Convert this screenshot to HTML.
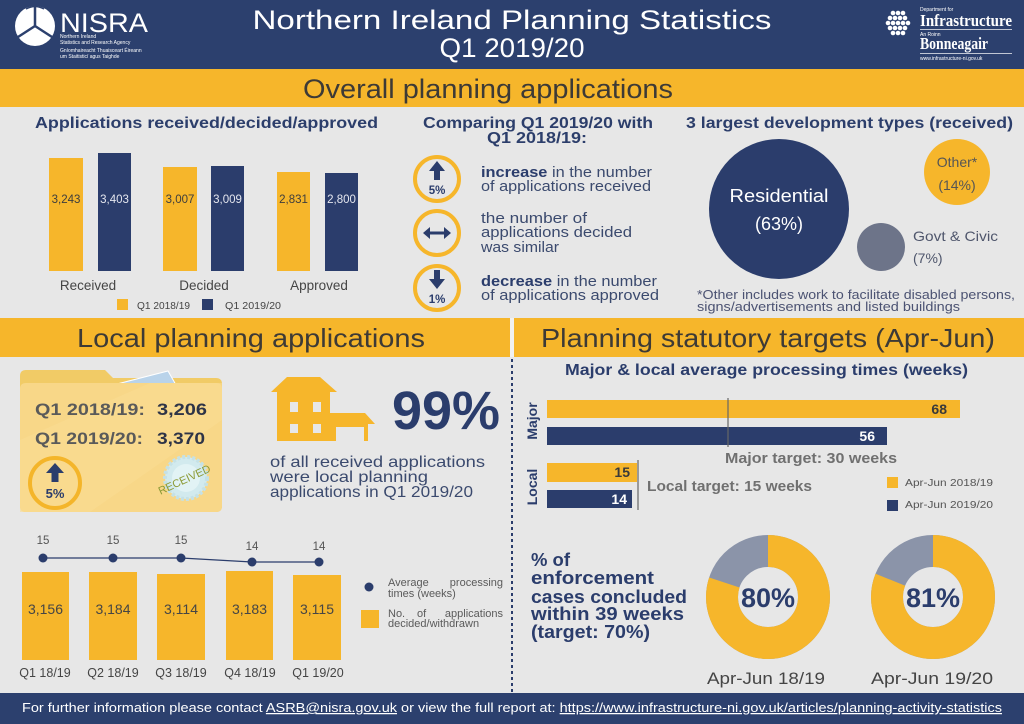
<!DOCTYPE html>
<html><head><meta charset="utf-8"><style>
html,body{margin:0;padding:0;width:1024px;height:724px;overflow:hidden;background:#e7e7e7}
svg{display:block}
text{font-family:"Liberation Sans","DejaVu Sans",sans-serif}
</style></head><body>
<svg width="1024" height="724" viewBox="0 0 1024 724" xmlns="http://www.w3.org/2000/svg">
<rect width="1024" height="724" fill="#e7e7e7"/>

<!-- HEADER -->
<rect x="0" y="0" width="1024" height="69" fill="#2c406e"/>
<!-- NISRA logo -->
<circle cx="35" cy="26" r="20" fill="#ffffff"/>
<path d="M35 26 L35 6 M35 26 L18 37 M35 26 L52 37" stroke="#2c406e" stroke-width="2.5" fill="none"/>
<path d="M26 9 Q35 4 44 9" stroke="#2c406e" stroke-width="1.5" fill="none"/>
<text x="60" y="32" font-size="27" fill="#ffffff" textLength="88" lengthAdjust="spacingAndGlyphs">NISRA</text>
<text x="60" y="38" font-size="5" fill="#ffffff">Northern Ireland</text>
<text x="60" y="44" font-size="5" fill="#ffffff">Statistics and Research Agency</text>
<text x="60" y="52" font-size="5" fill="#ffffff">Gníomhaireacht Thuaisceart Éireann</text>
<text x="60" y="58" font-size="5" fill="#ffffff">um Staitisticí agus Taighde</text>

<text x="512" y="29" font-size="27" fill="#ffffff" text-anchor="middle" textLength="519" lengthAdjust="spacingAndGlyphs">Northern Ireland Planning Statistics</text>
<text x="512" y="57" font-size="27" fill="#ffffff" text-anchor="middle" textLength="145" lengthAdjust="spacingAndGlyphs">Q1 2019/20</text>

<!-- Infrastructure logo -->
<g fill="#ffffff">
<circle cx="893" cy="13" r="2.3"/><circle cx="898" cy="13" r="2.3"/><circle cx="903" cy="13" r="2.3"/>
<circle cx="890" cy="18" r="2.3"/><circle cx="895" cy="18" r="2.3"/><circle cx="900" cy="18" r="2.3"/><circle cx="905" cy="18" r="2.3"/>
<circle cx="888" cy="23" r="2.3"/><circle cx="893" cy="23" r="2.3"/><circle cx="898" cy="23" r="2.3"/><circle cx="903" cy="23" r="2.3"/><circle cx="908" cy="23" r="2.3"/>
<circle cx="890" cy="28" r="2.3"/><circle cx="895" cy="28" r="2.3"/><circle cx="900" cy="28" r="2.3"/><circle cx="905" cy="28" r="2.3"/>
<circle cx="893" cy="33" r="2.3"/><circle cx="898" cy="33" r="2.3"/><circle cx="903" cy="33" r="2.3"/>
</g>
<text x="920" y="11" font-size="5" fill="#ffffff">Department for</text>
<text x="920" y="26" font-size="17" fill="#ffffff" font-family="Liberation Serif,serif" font-weight="bold" textLength="92" lengthAdjust="spacingAndGlyphs" style="font-family:'Liberation Serif',serif">Infrastructure</text>
<rect x="920" y="29" width="92" height="0.7" fill="#ffffff"/>
<text x="920" y="36" font-size="5" fill="#ffffff">An Roinn</text>
<text x="920" y="49" font-size="17" fill="#ffffff" font-weight="bold" textLength="68" lengthAdjust="spacingAndGlyphs" style="font-family:'Liberation Serif',serif">Bonneagair</text>
<rect x="920" y="53" width="92" height="0.7" fill="#ffffff"/>
<text x="920" y="60" font-size="5" fill="#ffffff">www.infrastructure-ni.gov.uk</text>

<!-- BAND 1 -->
<rect x="0" y="69" width="1024" height="38" fill="#f6b62b"/>
<text x="488" y="98" font-size="27" fill="#3d3a36" text-anchor="middle" textLength="370" lengthAdjust="spacingAndGlyphs">Overall planning applications</text>

<!-- Section titles -->
<text x="35" y="128" font-size="16" font-weight="bold" fill="#2c3e6b" textLength="343" lengthAdjust="spacingAndGlyphs">Applications received/decided/approved</text>
<text x="538" y="128" font-size="16" font-weight="bold" fill="#2c3e6b" text-anchor="middle" textLength="230" lengthAdjust="spacingAndGlyphs">Comparing Q1 2019/20 with</text>
<text x="537" y="143" font-size="16" font-weight="bold" fill="#2c3e6b" text-anchor="middle" textLength="100" lengthAdjust="spacingAndGlyphs">Q1 2018/19:</text>
<text x="686" y="128" font-size="16" font-weight="bold" fill="#2c3e6b" textLength="327" lengthAdjust="spacingAndGlyphs">3 largest development types (received)</text>

<!-- Bar chart 1 -->
<rect x="49" y="158" width="34" height="113" fill="#f6b62b"/>
<rect x="98" y="153" width="33" height="118" fill="#2b3d6c"/>
<rect x="163" y="167" width="34" height="104" fill="#f6b62b"/>
<rect x="211" y="166" width="33" height="105" fill="#2b3d6c"/>
<rect x="277" y="172" width="33" height="99" fill="#f6b62b"/>
<rect x="325" y="173" width="33" height="98" fill="#2b3d6c"/>
<g font-size="11.5" text-anchor="middle">
<text x="66" y="203" fill="#3d3d3d">3,243</text>
<text x="114.5" y="203" fill="#e4e6ee">3,403</text>
<text x="180" y="203" fill="#3d3d3d">3,007</text>
<text x="227.5" y="203" fill="#e4e6ee">3,009</text>
<text x="293.5" y="203" fill="#3d3d3d">2,831</text>
<text x="341.5" y="203" fill="#e4e6ee">2,800</text>
</g>
<g font-size="13.5" text-anchor="middle" fill="#454545">
<text x="88" y="290">Received</text>
<text x="204" y="290">Decided</text>
<text x="319" y="290">Approved</text>
</g>
<rect x="117" y="299" width="11" height="11" fill="#f6b62b"/>
<text x="137" y="309" font-size="10.5" fill="#454545" textLength="53" lengthAdjust="spacingAndGlyphs">Q1 2018/19</text>
<rect x="202" y="299" width="11" height="11" fill="#2b3d6c"/>
<text x="225" y="309" font-size="10.5" fill="#454545" textLength="56" lengthAdjust="spacingAndGlyphs">Q1 2019/20</text>

<!-- Comparing section -->
<g fill="none" stroke="#f6b62b" stroke-width="4">
<circle cx="437" cy="179" r="22"/>
<circle cx="437" cy="233" r="22"/>
<circle cx="437" cy="288" r="22"/>
</g>
<g fill="#2b3d6c">
<polygon points="437,161 445,171 429,171"/><rect x="434" y="170" width="6" height="10"/>
<polygon points="423,233 430,227 430,239"/><polygon points="451,233 444,227 444,239"/><rect x="429" y="231.5" width="16" height="3"/>
<polygon points="437,289 445,279 429,279"/><rect x="434" y="270" width="6" height="10"/>
</g>
<text x="437" y="194" font-size="11.5" font-weight="bold" fill="#2b3d6c" text-anchor="middle">5%</text>
<text x="437" y="303" font-size="11.5" font-weight="bold" fill="#2b3d6c" text-anchor="middle">1%</text>
<g font-size="15" fill="#3b4a6e">
<text x="481" y="177" textLength="171" lengthAdjust="spacingAndGlyphs"><tspan font-weight="bold" fill="#2b3d6c">increase</tspan> in the number</text>
<text x="481" y="191" textLength="170" lengthAdjust="spacingAndGlyphs">of applications received</text>
<text x="481" y="223" textLength="106" lengthAdjust="spacingAndGlyphs">the number of</text>
<text x="481" y="237" textLength="151" lengthAdjust="spacingAndGlyphs">applications decided</text>
<text x="481" y="252" textLength="78" lengthAdjust="spacingAndGlyphs">was similar</text>
<text x="481" y="286" textLength="176" lengthAdjust="spacingAndGlyphs"><tspan font-weight="bold" fill="#2b3d6c">decrease</tspan> in the number</text>
<text x="481" y="300" textLength="178" lengthAdjust="spacingAndGlyphs">of applications approved</text>
</g>

<!-- Bubbles -->
<circle cx="779" cy="209" r="70" fill="#2b3d6c"/>
<circle cx="957" cy="172" r="33" fill="#f6b62b"/>
<circle cx="881" cy="247" r="24" fill="#6d7489"/>
<text x="779" y="202" font-size="18" fill="#ffffff" text-anchor="middle" textLength="99" lengthAdjust="spacingAndGlyphs">Residential</text>
<text x="779" y="230" font-size="18" fill="#ffffff" text-anchor="middle">(63%)</text>
<text x="957" y="167" font-size="14" fill="#555555" text-anchor="middle">Other*</text>
<text x="957" y="190" font-size="14" fill="#555555" text-anchor="middle">(14%)</text>
<text x="913" y="241" font-size="14" fill="#4f566c" textLength="85" lengthAdjust="spacingAndGlyphs">Govt &amp; Civic</text>
<text x="913" y="263" font-size="14" fill="#4f566c">(7%)</text>
<text x="697" y="299" font-size="12.5" fill="#4b5272" textLength="318" lengthAdjust="spacingAndGlyphs">*Other includes work to facilitate disabled persons,</text>
<text x="697" y="311" font-size="12.5" fill="#4b5272" textLength="263" lengthAdjust="spacingAndGlyphs">signs/advertisements and listed buildings</text>

<!-- BAND 2 -->
<rect x="0" y="318" width="1024" height="39" fill="#f1f1f1"/>
<rect x="0" y="318" width="510" height="39" fill="#f6b62b"/>
<rect x="514" y="318" width="510" height="39" fill="#f6b62b"/>
<text x="251" y="347" font-size="26" fill="#3d3a36" text-anchor="middle" textLength="348" lengthAdjust="spacingAndGlyphs">Local planning applications</text>
<text x="768" y="347" font-size="26" fill="#3d3a36" text-anchor="middle" textLength="454" lengthAdjust="spacingAndGlyphs">Planning statutory targets (Apr-Jun)</text>

<line x1="512" y1="359" x2="512" y2="692" stroke="#2b3d6c" stroke-width="2" stroke-dasharray="3 3"/>

<!-- Folder -->
<path d="M26 370 L105 370 L113 378 L216 378 Q222 378 222 384 L222 506 Q222 512 216 512 L26 512 Q20 512 20 506 L20 376 Q20 370 26 370 Z" fill="#f1cb66"/>
<polygon points="117,384 168,371 176,385" fill="#b9d3ea" stroke="#ffffff" stroke-width="1"/>
<path d="M26 383 L216 383 Q222 383 222 389 L222 506 Q222 512 216 512 L26 512 Q20 512 20 506 L20 389 Q20 383 26 383 Z" fill="#f8d788"/>
<polygon points="20,512 20,440 150,383 222,383 222,420 90,512" fill="#fadc93" opacity="0.6"/>
<text x="35" y="415" font-size="17" font-weight="bold" fill="#5a5a5a" textLength="110" lengthAdjust="spacingAndGlyphs">Q1 2018/19:</text>
<text x="157" y="415" font-size="17" font-weight="bold" fill="#2e3447" textLength="50" lengthAdjust="spacingAndGlyphs">3,206</text>
<text x="35" y="444" font-size="17" font-weight="bold" fill="#5a5a5a" textLength="108" lengthAdjust="spacingAndGlyphs">Q1 2019/20:</text>
<text x="157" y="444" font-size="17" font-weight="bold" fill="#2e3447" textLength="48" lengthAdjust="spacingAndGlyphs">3,370</text>
<circle cx="55" cy="483" r="25" fill="none" stroke="#f4b52a" stroke-width="4"/>
<polygon points="55,463 64,473 46,473" fill="#2b3d6c"/><rect x="51.5" y="472" width="7" height="10" fill="#2b3d6c"/>
<text x="55" y="498" font-size="13" font-weight="bold" fill="#2b3d6c" text-anchor="middle">5%</text>
<circle cx="186" cy="478" r="21" fill="#d2eaee" stroke="#c5e1e6" stroke-width="4" stroke-dasharray="3 2"/>
<circle cx="186" cy="478" r="14" fill="#e2f3f5"/>
<text transform="translate(186,483) rotate(-25)" font-size="11" fill="#8c9a35" text-anchor="middle">RECEIVED</text>

<!-- House -->
<g fill="#f6b62b">
<polygon points="287,377 320,377 337,392 271,392"/>
<rect x="277" y="391" width="53" height="50"/>
<polygon points="330,413 365,413 375,424 330,424"/>
<rect x="330" y="423" width="38" height="18"/>
</g>
<g fill="#e7e7e7">
<rect x="290" y="402" width="8" height="10"/><rect x="313" y="402" width="8" height="10"/>
<rect x="290" y="424" width="8" height="9"/><rect x="313" y="424" width="8" height="9"/>
<rect x="336" y="427" width="28" height="14"/>
</g>
<text x="392" y="429" font-size="54" font-weight="bold" fill="#2b3d6c" textLength="108" lengthAdjust="spacingAndGlyphs">99%</text>
<text x="270" y="467" font-size="16" fill="#3b4a6e" textLength="215" lengthAdjust="spacingAndGlyphs">of all received applications</text>
<text x="270" y="482" font-size="16" fill="#3b4a6e" textLength="158" lengthAdjust="spacingAndGlyphs">were local planning</text>
<text x="270" y="497" font-size="16" fill="#3b4a6e" textLength="203" lengthAdjust="spacingAndGlyphs">applications in Q1 2019/20</text>

<!-- Bottom-left chart -->
<g fill="#f6b62b">
<rect x="22" y="572" width="47" height="88"/>
<rect x="89" y="572" width="48" height="88"/>
<rect x="157" y="574" width="48" height="86"/>
<rect x="226" y="571" width="47" height="89"/>
<rect x="293" y="575" width="48" height="85"/>
</g>
<g font-size="14" fill="#454545" text-anchor="middle">
<text x="45.5" y="614">3,156</text>
<text x="113" y="614">3,184</text>
<text x="181" y="614">3,114</text>
<text x="249.5" y="614">3,183</text>
<text x="317" y="614">3,115</text>
</g>
<polyline points="43,558 113,558 181,558 252,562 319,562" fill="none" stroke="#2b3d6c" stroke-width="1.3"/>
<g fill="#2b3d6c">
<circle cx="43" cy="558" r="4.5"/><circle cx="113" cy="558" r="4.5"/><circle cx="181" cy="558" r="4.5"/><circle cx="252" cy="562" r="4.5"/><circle cx="319" cy="562" r="4.5"/>
</g>
<g font-size="11.5" fill="#555555" text-anchor="middle">
<text x="43" y="544">15</text><text x="113" y="544">15</text><text x="181" y="544">15</text><text x="252" y="550">14</text><text x="319" y="550">14</text>
</g>
<g font-size="12.5" fill="#454545" text-anchor="middle">
<text x="45" y="677">Q1 18/19</text>
<text x="113" y="677">Q2 18/19</text>
<text x="181" y="677">Q3 18/19</text>
<text x="250" y="677">Q4 18/19</text>
<text x="318" y="677">Q1 19/20</text>
</g>
<circle cx="369" cy="587" r="4.5" fill="#2b3d6c"/>
<rect x="361" y="610" width="18" height="18" fill="#f6b62b"/>
<g font-size="11" fill="#5a5a5a">
<text x="388" y="586">Average</text><text x="503" y="586" text-anchor="end">processing</text>
<text x="388" y="597">times (weeks)</text>
<text x="388" y="617">No.</text><text x="417" y="617">of</text><text x="503" y="617" text-anchor="end">applications</text>
<text x="388" y="627">decided/withdrawn</text>
</g>

<!-- Processing times -->
<text x="565" y="375" font-size="15.5" font-weight="bold" fill="#2b3d6c" textLength="403" lengthAdjust="spacingAndGlyphs">Major &amp; local average processing times (weeks)</text>
<text transform="translate(537,421) rotate(-90)" font-size="14" font-weight="bold" fill="#2b3d6c" text-anchor="middle">Major</text>
<text transform="translate(537,487) rotate(-90)" font-size="14" font-weight="bold" fill="#2b3d6c" text-anchor="middle">Local</text>
<rect x="547" y="400" width="413" height="18" fill="#f6b62b"/>
<rect x="547" y="427" width="340" height="18" fill="#2b3d6c"/>
<line x1="728" y1="398" x2="728" y2="447" stroke="#666666" stroke-width="1.2"/>
<rect x="547" y="463" width="90" height="19" fill="#f6b62b"/>
<rect x="547" y="490" width="85" height="18" fill="#2b3d6c"/>
<line x1="638" y1="460" x2="638" y2="510" stroke="#666666" stroke-width="1.2"/>
<g font-size="14" font-weight="bold" text-anchor="end">
<text x="947" y="414" fill="#3a3a3a">68</text>
<text x="875" y="441" fill="#ffffff">56</text>
<text x="630" y="477" fill="#3a3a3a">15</text>
<text x="627" y="504" fill="#ffffff">14</text>
</g>
<text x="725" y="463" font-size="14.5" font-weight="bold" fill="#707070" textLength="172" lengthAdjust="spacingAndGlyphs">Major target: 30 weeks</text>
<text x="647" y="491" font-size="14.5" font-weight="bold" fill="#707070" textLength="165" lengthAdjust="spacingAndGlyphs">Local target: 15 weeks</text>
<rect x="887" y="477" width="11" height="11" fill="#f6b62b"/>
<text x="905" y="486" font-size="10.5" fill="#555555" textLength="88" lengthAdjust="spacingAndGlyphs">Apr-Jun 2018/19</text>
<rect x="887" y="500" width="11" height="11" fill="#2b3d6c"/>
<text x="905" y="508" font-size="10.5" fill="#555555" textLength="88" lengthAdjust="spacingAndGlyphs">Apr-Jun 2019/20</text>

<!-- Enforcement -->
<g font-size="18" font-weight="bold" fill="#2b3d6c">
<text x="531" y="566" textLength="39" lengthAdjust="spacingAndGlyphs">% of</text>
<text x="531" y="584" textLength="123" lengthAdjust="spacingAndGlyphs">enforcement</text>
<text x="531" y="603" textLength="156" lengthAdjust="spacingAndGlyphs">cases concluded</text>
<text x="531" y="620" textLength="153" lengthAdjust="spacingAndGlyphs">within 39 weeks</text>
<text x="531" y="638" textLength="119" lengthAdjust="spacingAndGlyphs">(target: 70%)</text>
</g>
<circle cx="768" cy="597" r="46" fill="none" stroke="#8b94a9" stroke-width="32"/>
<circle cx="768" cy="597" r="46" fill="none" stroke="#f6b62b" stroke-width="32" stroke-dasharray="231.2 400" transform="rotate(-90 768 597)"/>
<circle cx="933" cy="597" r="46" fill="none" stroke="#8b94a9" stroke-width="32"/>
<circle cx="933" cy="597" r="46" fill="none" stroke="#f6b62b" stroke-width="32" stroke-dasharray="234.1 400" transform="rotate(-90 933 597)"/>
<text x="768" y="607" font-size="27" font-weight="bold" fill="#2b3d6c" text-anchor="middle">80%</text>
<text x="933" y="607" font-size="27" font-weight="bold" fill="#2b3d6c" text-anchor="middle">81%</text>
<text x="766" y="684" font-size="17" fill="#454545" text-anchor="middle" textLength="118" lengthAdjust="spacingAndGlyphs">Apr-Jun 18/19</text>
<text x="932" y="684" font-size="17" fill="#454545" text-anchor="middle" textLength="122" lengthAdjust="spacingAndGlyphs">Apr-Jun 19/20</text>

<!-- FOOTER -->
<rect x="0" y="693" width="1024" height="31" fill="#2c406e"/>
<text x="22" y="712" font-size="12.5" fill="#ffffff" textLength="980" lengthAdjust="spacingAndGlyphs">For further information please contact <tspan text-decoration="underline">ASRB@nisra.gov.uk</tspan> or view the full report at: <tspan text-decoration="underline">https://www.infrastructure-ni.gov.uk/articles/planning-activity-statistics</tspan></text>
</svg>
</body></html>
